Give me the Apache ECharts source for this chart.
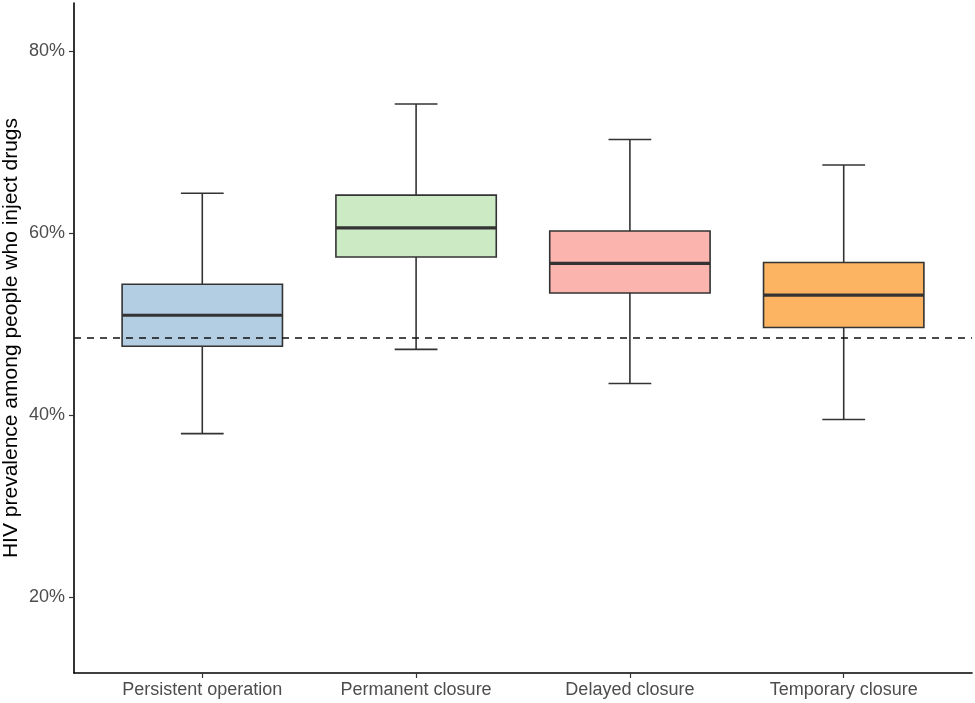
<!DOCTYPE html>
<html>
<head>
<meta charset="utf-8">
<script src="https://cdn.jsdelivr.net/npm/echarts@6/dist/echarts.min.js"></script>
<style>
html,body{margin:0;padding:0;background:#fff;}
#chart{width:975px;height:703px;}
</style>
</head>
<body>
<div id="chart"></div>
<script>
const categories = ['Persistent operation', 'Permanent closure', 'Delayed closure', 'Temporary closure'];
const whiskerLow  = [38.0, 47.25, 43.5, 39.55];
const q1          = [47.6, 57.4, 53.45, 49.65];
const median      = [51.0, 60.6, 56.7, 53.2];
const q3          = [54.4, 64.2, 60.25, 56.8];
const whiskerHigh = [64.4, 74.2, 70.3, 67.5];
const referenceLine = 48.5;
const yTicks = [20, 40, 60, 80];
const yTitle = 'HIV prevalence among people who inject drugs';

const fillColors = ['#b3cde3', '#ccebc5', '#fbb4ae', '#fdb462'];
const FONT = "'Liberation Sans', Arial, sans-serif";
const BOX_HALF = 0.375, CAP_HALF = 0.1;
const LINE = '#333333';

const data = categories.map((c, i) => [i + 1, whiskerLow[i], q1[i], median[i], q3[i], whiskerHigh[i]]);

function renderItem(params, api) {
  const x = api.value(0);
  const lo = api.value(1), b1 = api.value(2), md = api.value(3), b3 = api.value(4), hi = api.value(5);
  const tl = api.coord([x - BOX_HALF, b3]);
  const br = api.coord([x + BOX_HALF, b1]);
  const pHi = api.coord([x, hi]), pB3 = api.coord([x, b3]);
  const pLo = api.coord([x, lo]), pB1 = api.coord([x, b1]);
  const cHiL = api.coord([x - CAP_HALF, hi]), cHiR = api.coord([x + CAP_HALF, hi]);
  const cLoL = api.coord([x - CAP_HALF, lo]), cLoR = api.coord([x + CAP_HALF, lo]);
  const mL = api.coord([x - BOX_HALF, md]), mR = api.coord([x + BOX_HALF, md]);
  const ls = {stroke: LINE, lineWidth: 1.6};
  return {
    type: 'group',
    children: [
      {type: 'line', shape: {x1: pHi[0], y1: pHi[1], x2: pB3[0], y2: pB3[1]}, style: ls},
      {type: 'line', shape: {x1: pLo[0], y1: pLo[1], x2: pB1[0], y2: pB1[1]}, style: ls},
      {type: 'line', shape: {x1: cHiL[0], y1: cHiL[1], x2: cHiR[0], y2: cHiR[1]}, style: ls},
      {type: 'line', shape: {x1: cLoL[0], y1: cLoL[1], x2: cLoR[0], y2: cLoR[1]}, style: ls},
      {type: 'rect', shape: {x: tl[0], y: tl[1], width: br[0] - tl[0], height: br[1] - tl[1]},
        style: {fill: fillColors[params.dataIndex], stroke: LINE, lineWidth: 1.6}},
      {type: 'line', shape: {x1: mL[0], y1: mL[1], x2: mR[0], y2: mR[1]}, style: {stroke: LINE, lineWidth: 3.2}}
    ]
  };
}

const chart = echarts.init(document.getElementById('chart'), null, {renderer: 'canvas'});
chart.setOption({
  animation: false,
  backgroundColor: '#ffffff',
  grid: {left: 74, right: 3, top: 3, bottom: 30, containLabel: false, outerBoundsMode: 'none'},
  xAxis: {
    type: 'value', min: 0.4, max: 4.6,
    splitLine: {show: false},
    axisLine: {show: true, onZero: false, lineStyle: {color: '#000', width: 1.6}},
    axisTick: {show: true, length: 5, customValues: [1, 2, 3, 4], lineStyle: {color: '#333', width: 1.2}},
    axisLabel: {
      customValues: [1, 2, 3, 4], margin: 8,
      formatter: v => categories[Math.round(v) - 1],
      color: '#4d4d4d', fontSize: 18, fontFamily: FONT
    }
  },
  yAxis: {
    type: 'value', min: 11.7, max: 85.3,
    name: yTitle, nameLocation: 'middle', nameGap: 52, nameMoveOverlap: false,
    nameTextStyle: {color: '#000', fontSize: 21, fontFamily: FONT},
    splitLine: {show: false},
    axisLine: {show: true, onZero: false, lineStyle: {color: '#000', width: 1.6}},
    axisTick: {show: true, length: 5, customValues: yTicks, lineStyle: {color: '#333', width: 1.2}},
    axisLabel: {
      customValues: yTicks, margin: 9,
      formatter: v => v + '%',
      color: '#4d4d4d', fontSize: 18, fontFamily: FONT
    }
  },
  series: [{
    type: 'custom',
    renderItem: renderItem,
    encode: {x: 0, y: [1, 2, 3, 4, 5]},
    data: data,
    markLine: {
      silent: true, symbol: 'none', label: {show: false},
      lineStyle: {color: '#111', type: [7, 6], width: 1.6},
      data: [{yAxis: referenceLine}]
    }
  }]
});
</script>
</body>
</html>
